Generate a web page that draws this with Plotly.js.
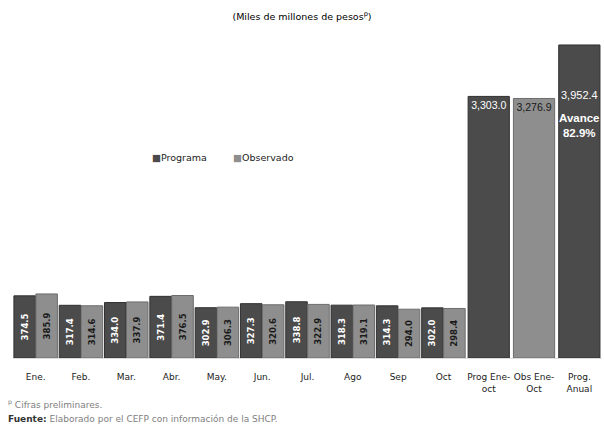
<!DOCTYPE html>
<html>
<head>
<meta charset="utf-8">
<script src="https://cdn.plot.ly/plotly-3.0.1.min.js"></script>
<style>html,body{margin:0;padding:0;background:#fff;}</style>
</head>
<body>
<div id="chart" style="width:604px;height:429px;"></div>
<script>
// Data
const months = ["Ene.", "Feb.", "Mar.", "Abr.", "May.", "Jun.", "Jul.", "Ago", "Sep", "Oct"];
const programa = [374.5, 317.4, 334.0, 371.4, 302.9, 327.3, 338.8, 318.3, 314.3, 302.0];
const observado = [385.9, 314.6, 337.9, 376.5, 306.3, 320.6, 322.9, 319.1, 294.0, 298.4];
const totalLabels = ["Prog Ene-<br>oct", "Obs Ene-<br>Oct", "Prog.<br>Anual"];
const totalValues = [3303.0, 3276.9, 3952.4];
const seriesNames = ["Programa", "Observado"];
const avance = totalValues[1] / totalValues[2] * 100;

const DARK = "#4b4b4b", LIGHT = "#8e8e8e";
const fmt = v => v.toLocaleString("en-US", {minimumFractionDigits: 1, maximumFractionDigits: 1});

const traces = [
  {
    type: "bar", name: seriesNames[0], x: months, y: programa,
    width: 0.475, offset: -0.48,
    marker: {color: DARK, line: {color: "#303030", width: 1}},
    texttemplate: "%{y:.1f}", textposition: "inside", insidetextanchor: "middle",
    textangle: -90, textfont: {family: "DejaVu Sans", size: 8.5, color: "#ffffff", weight: "bold"},
    hoverinfo: "skip", showlegend: false
  },
  {
    type: "bar", name: seriesNames[1], x: months, y: observado,
    width: 0.475, offset: 0.005,
    marker: {color: LIGHT, line: {color: "#6c6c6c", width: 1}},
    texttemplate: "%{y:.1f}", textposition: "inside", insidetextanchor: "middle",
    textangle: -90, textfont: {family: "DejaVu Sans", size: 8.5, color: "#1a1a1a", weight: "bold"},
    hoverinfo: "skip", showlegend: false
  },
  {
    type: "bar", name: "Acumulado", x: totalLabels.slice(0, 2), y: totalValues.slice(0, 2), yaxis: "y2",
    width: 0.91, offset: -0.455, showlegend: false,
    marker: {color: [DARK, LIGHT], line: {color: ["#303030", "#6c6c6c"], width: 1}},
    texttemplate: "%{y:,.1f}",
    textposition: "inside", insidetextanchor: "end", textangle: 0,
    textfont: {family: "Liberation Sans Narrow, Liberation Sans", size: 11, color: ["#ffffff", "#1a1a1a"]},
    hoverinfo: "skip"
  },
  {
    type: "bar", name: "Anual", x: totalLabels.slice(2), y: totalValues.slice(2), yaxis: "y2",
    width: 0.91, offset: -0.455, showlegend: false,
    marker: {color: DARK, line: {color: "#303030", width: 1}},
    hoverinfo: "skip"
  }
];

const layout = {
  width: 604, height: 429,
  margin: {l: 13, r: 2, t: 26, b: 71},
  paper_bgcolor: "#ffffff", plot_bgcolor: "#ffffff",
  barmode: "overlay",
  showlegend: false,
  title: {
    text: "(Miles de millones de pesos<sup>p</sup>)",
    x: 0.5, xanchor: "center", y: 0.962, yanchor: "middle",
    font: {family: "DejaVu Sans", size: 9.5, color: "#000000"}
  },
  xaxis: {
    type: "category",
    categoryorder: "array", categoryarray: months.concat(totalLabels),
    range: [-0.5, 12.5],
    showgrid: false, zeroline: false, showline: true, linecolor: "#dddddd", linewidth: 1,
    ticks: "", tickfont: {family: "DejaVu Sans", size: 9, color: "#222222"},
    ticklabelstandoff: 10
  },
  yaxis: {range: [0, 2000], visible: false, showgrid: false, zeroline: false},
  yaxis2: {range: [0, 4192], overlaying: "y", visible: false, showgrid: false, zeroline: false},
  annotations: [
    {
      x: 0.2326, y: 0.605, xref: "paper", yref: "paper", xanchor: "left", yanchor: "middle",
      showarrow: false,
      text: "<span style='color:" + DARK + "'>■</span>" + seriesNames[0],
      font: {family: "DejaVu Sans", size: 9.5, color: "#222222"}
    },
    {
      x: 0.370, y: 0.605, xref: "paper", yref: "paper", xanchor: "left", yanchor: "middle",
      showarrow: false,
      text: "<span style='color:" + LIGHT + "'>■</span>" + seriesNames[1],
      font: {family: "DejaVu Sans", size: 9.5, color: "#222222"}
    },
    {
      x: totalLabels[2], y: totalValues[2], xref: "x", yref: "y2",
      text: fmt(totalValues[2]), showarrow: false, yanchor: "middle", yshift: -50,
      font: {family: "Liberation Sans Narrow, Liberation Sans", size: 11, color: "#ffffff"}
    },
    {
      x: totalLabels[2], y: totalValues[2], xref: "x", yref: "y2",
      text: "<b>Avance</b><br><b>" + avance.toFixed(1) + "%</b>", showarrow: false,
      yanchor: "middle", yshift: -81,
      font: {family: "Liberation Sans Narrow, Liberation Sans", size: 11.5, color: "#ffffff"}
    },
    {
      x: -0.012, y: -0.139, xref: "paper", yref: "paper", xanchor: "left", yanchor: "middle",
      text: "<sup>p</sup> Cifras preliminares.", showarrow: false,
      font: {family: "DejaVu Sans", size: 9, color: "#808080"}
    },
    {
      x: -0.012, y: -0.184, xref: "paper", yref: "paper", xanchor: "left", yanchor: "middle",
      text: "<b><span style='color:#333333'>Fuente:</span></b> Elaborado por el CEFP con información de la SHCP.",
      showarrow: false,
      font: {family: "DejaVu Sans", size: 9, color: "#808080"}
    }
  ]
};

Plotly.newPlot("chart", traces, layout, {staticPlot: true, displayModeBar: false});
</script>
</body>
</html>
